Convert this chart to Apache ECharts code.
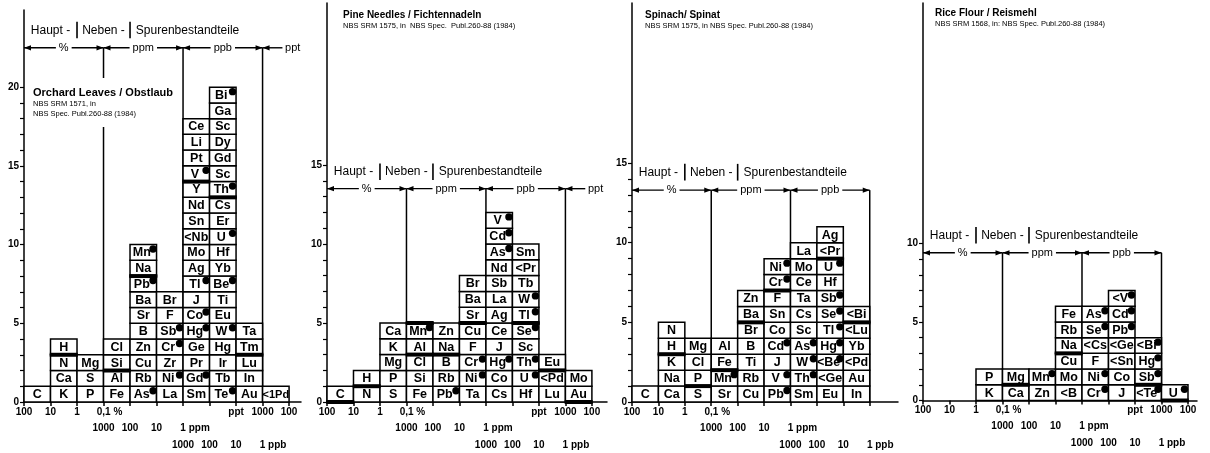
<!DOCTYPE html>
<html><head><meta charset="utf-8">
<script src="https://cdn.jsdelivr.net/npm/echarts@6/dist/echarts.min.js"></script>
<style>html,body{margin:0;padding:0;background:#fff}#c{width:1210px;height:453px}</style>
</head><body><div id="c"></div>
<script>
// ---------------- DATA ----------------
// Each column = one concentration decade (0: 100-10 %, 1: 10-1 %, ... ), elements stacked bottom -> top.
// '*' marks elements drawn with a black dot.
const orchardColumns = [
  ['C'],
  ['K','Ca','N','H'],
  ['P','S','Mg'],
  ['Fe','Al','Si','Cl'],
  ['As*','Rb','Cu','Zn','B','Sr','Ba','Pb*','Na','Mn*'],
  ['La','Ni*','Zr','Cr*','Sb*','F','Br'],
  ['Sm','Gd*','Pr','Ge','Hg*','Co*','J','Tl*','Ag','Mo','<Nb','Sn','Nd','Y','V*','Pt','Li','Ce'],
  ['Te*','Tb','Ir','Hg','W*','Eu','Ti','Be*','Yb','Hf','U*','Er','Cs','Th*','Sc','Gd','Dy','Sc','Ga','Bi*'],
  ['Au','In','Lu','Tm','Ta'],
  ['<1Pd']
];
const orchardBoundaries = [[1,3],[3,2],[4,8],[6,14],[7,13],[8,3]];

const pineColumns = [
  ['C'],
  ['N','H'],
  ['S','P','Mg','K','Ca'],
  ['Fe','Si','Cl','Al','Mn*'],
  ['Pb*','Rb','B','Na','Zn'],
  ['Ta','Ni*','Cr*','F','Cu','Sr','Ba','Br'],
  ['Cs','Co','Hg*','J','Ce','Ag','La','Sb','Nd','As*','Cd*','V*'],
  ['Hf','U*','Th*','Sc','Se*','Tl*','W*','Tb','<Pr','Sm'],
  ['Lu','<Pd','Eu'],
  ['Au','Mo']
];
const pineBoundaries = [[0,0],[1,1],[3,3],[3,5],[4,3],[5,5],[7,5],[8,2],[9,0]];

const spinachColumns = [
  ['C'],
  ['Ca','Na','K','H','N'],
  ['S','P','Cl','Mg'],
  ['Sr','Mn*','Fe','Al'],
  ['Cu','Rb','Ti','B','Br','Ba','Zn'],
  ['Pb*','V*','J','Cd*','Co','Sn','F','Cr*','Ni*'],
  ['Sm','Th*','W*','As*','Sc','Cs','Ta','Ce','Mo','La'],
  ['Eu','<Ge','<Be*','Hg*','Tl*','Se*','Sb*','Hf','U*','<Pr','Ag'],
  ['In','Au','<Pd','Yb','<Lu','<Bi']
];
const spinachBoundaries = [[1,3],[2,1],[3,2],[4,5],[5,7],[7,9],[8,5]];

const riceColumns = [
  [],
  [],
  ['K','P'],
  ['Ca','Mg'],
  ['Zn','Mn*'],
  ['<B','Mo','Cu','Na','Rb','Fe'],
  ['Cr*','Ni*','F','<Cs','Se*','As*'],
  ['J','Co','<Sn','<Ge','Pb*','Cd*','<V*'],
  ['<Te*','Sb*','Hg*','<Bi*'],
  ['U*']
];
const riceBoundaries = [[3,1],[5,3],[8,1],[9,0]];

const panelTitles = ['Orchard Leaves / Obstlaub','Pine Needles / Fichtennadeln','Spinach/ Spinat','Rice Flour / Reismehl'];
const panelSources = ['NBS SRM 1571, in\nNBS Spec. Publ.260-88 (1984)','NBS SRM 1575, in  NBS Spec.  Publ.260-88 (1984)','NBS SRM 1575, in NBS Spec. Publ.260-88 (1984)','NBS SRM 1568, in: NBS Spec. Publ.260-88 (1984)'];

const yLabelValues = [[0,5,10,15,20],[0,5,10,15],[0,5,10,15],[0,5,10]];
const yTickTop = [20,15,15,10];

const xRow1FullValues = [0,1,2,3,8,9,10];
const xRow1FullLabels = ['100','10','1','0,1 %','ppt','1000','100'];
const xRow1ShortValues = [0,1,2,3];
const xRow1ShortLabels = ['100','10','1','0,1 %'];
const xRow2Values = [3,4,5,6];
const xRow2Labels = ['1000','100','10','1 ppm'];
const xRow3Values = [6,7,8,9];
const xRow3Labels = ['1000','100','10','1 ppb'];

const unitSegments = [[0,3,'%'],[3,6,'ppm'],[6,9,'ppb']];
const unitBoundaries = [3,6,9];
const headerWords = ['Haupt -','Neben -','Spurenbestandteile'];

// ---------------- LAYOUT ----------------
const FONT = "'Liberation Sans', 'DejaVu Sans', sans-serif";
const BOXFONT = "'Liberation Sans Narrow', 'Liberation Sans', sans-serif";
const GRIDS = [
  {left:24,  top:10, width:277, height:392,   xMax:10.45, yMax:24.9,  headY:23.6, arrowY:22.5, tail:true,  xTickMax:10, row1:'full'},
  {left:327, top:3,  width:280, height:399,   xMax:10.57, yMax:25.25, headY:14.55,arrowY:13.5, tail:true,  xTickMax:10, row1:'full'},
  {left:632, top:3,  width:266, height:399,   xMax:10.07, yMax:25.05, headY:14.4, arrowY:13.3, tail:false, xTickMax:9,  row1:'short'},
  {left:923, top:3,  width:274, height:397.5, xMax:10.34, yMax:25.3,  headY:10.5, arrowY:9.4,  tail:false, xTickMax:10, row1:'full'}
];
const TITLE_POS = [
  {left:29, top:78, padding:[9,4,8,4], bg:'#fff', size:11},
  {left:343, top:9, padding:0, bg:'transparent', size:10},
  {left:645, top:9, padding:0, bg:'transparent', size:10},
  {left:935, top:7, padding:0, bg:'transparent', size:10}
];

const panels = [
  {columns: orchardColumns, bounds: orchardBoundaries},
  {columns: pineColumns, bounds: pineBoundaries},
  {columns: spinachColumns, bounds: spinachBoundaries},
  {columns: riceColumns, bounds: riceBoundaries}
];

function buildCells(columns) {
  const cells = [];
  columns.forEach((col, c) => col.forEach((entry, r) => {
    const dot = entry.endsWith('*');
    cells.push({value: [c, r], name: dot ? entry.slice(0, -1) : entry, dot: dot});
  }));
  return cells;
}

const RICH_PAD = {'0,1 %': 12, '1 ppm': 24, '1 ppb': 21};
function labelFormatter(values, labels) {
  return function (v) {
    const i = values.indexOf(Math.round(v));
    if (i < 0) return '';
    const t = labels[i];
    if (RICH_PAD[t] !== undefined) return '{k' + RICH_PAD[t] + '|' + t + '}';
    return t;
  };
}
const labelRich = {};
Object.keys(RICH_PAD).forEach(k => {
  labelRich['k' + RICH_PAD[k]] = {padding: [0, 0, 0, RICH_PAD[k]], fontSize: 10, fontWeight: 'bold', fontFamily: FONT, color: '#000'};
});

const range = n => Array.from({length: n + 1}, (_, i) => i);

const grid = [], xAxis = [], yAxis = [], series = [], title = [];
GRIDS.forEach((g, gi) => {
  grid.push({left: g.left, top: g.top, width: g.width, height: g.height, containLabel: false});
  const r1v = g.row1 === 'full' ? xRow1FullValues : xRow1ShortValues;
  const r1l = g.row1 === 'full' ? xRow1FullLabels : xRow1ShortLabels;
  const rows = [[r1v, r1l, 0], [xRow2Values, xRow2Labels, 16], [xRow3Values, xRow3Labels, 33]];
  rows.forEach((row, ri) => {
    xAxis.push({
      type: 'value', gridIndex: gi, min: 0, max: g.xMax, position: 'bottom', offset: row[2],
      axisLine: {show: ri === 0, onZero: false, lineStyle: {color: '#000', width: 1.5}},
      axisTick: {show: ri === 0, customValues: range(g.xTickMax), length: 4, lineStyle: {color: '#000', width: 1.5}},
      axisLabel: {customValues: row[0], formatter: labelFormatter(row[0], row[1]), rich: labelRich,
        fontSize: 10, fontWeight: 'bold', fontFamily: FONT, color: '#000', margin: 5, showMinLabel: true, showMaxLabel: true},
      splitLine: {show: false}
    });
  });
  yAxis.push({
    type: 'value', gridIndex: gi, min: 0, max: g.yMax,
    axisLine: {show: true, onZero: false, lineStyle: {color: '#000', width: 1.5}},
    axisTick: {show: true, customValues: range(yTickTop[gi]), length: 4, lineStyle: {color: '#000', width: 1.2}},
    axisLabel: {customValues: yLabelValues[gi], fontSize: 10, fontWeight: 'bold', fontFamily: FONT, color: '#000', margin: 5},
    splitLine: {show: false}
  });

  const cells = buildCells(panels[gi].columns);
  const xi = gi * 3;

  // header: unit arrows, decade boundary lines, "Haupt- | Neben- | Spurenbestandteile"
  series.push({
    type: 'custom', xAxisIndex: xi, yAxisIndex: gi, z: 1, silent: true, clip: false,
    data: [[0, 0]],
    renderItem: function (params, api) {
      const P = (x, y) => api.coord([x, y]);
      const ch = [];
      const L = (a, b, w) => ch.push({type: 'line', shape: {x1: a[0], y1: a[1], x2: b[0], y2: b[1]}, style: {stroke: '#000', lineWidth: w || 1.4}});
      const head = (tip, dir) => ch.push({type: 'polygon', shape: {points: [[tip[0], tip[1]], [tip[0] - dir * 7, tip[1] - 2.6], [tip[0] - dir * 7, tip[1] + 2.6]]}, style: {fill: '#000'}});
      const T = (txt, p, align, size, bg) => ch.push({type: 'text', z2: 10, style: {text: txt, x: p[0], y: p[1], align: align, verticalAlign: 'middle', fontSize: size, fontFamily: FONT, fill: '#000', backgroundColor: bg ? '#fff' : null, padding: bg ? [0, 3] : 0}});
      const ay = g.arrowY, hy = g.headY;
      unitBoundaries.forEach(x => L(P(x, ay), P(x, 0), 1.5));
      unitSegments.forEach(s => {
        const a = P(s[0], ay), b = P(s[1], ay);
        L(a, b); head(a, -1); head(b, 1);
        T(s[2], P((s[0] + s[1]) / 2, ay), 'center', 11, true);
      });
      if (g.tail) {
        const a = P(9, ay), b = P(9.75, ay);
        L(a, b); head(a, -1);
        T('ppt', P(9.85, ay), 'left', 11, false);
      }
      T(headerWords[0], P(1, hy), 'center', 12, false);
      T(headerWords[1], P(3, hy), 'center', 12, false);
      T(headerWords[2], P(4.22, hy), 'left', 12, false);
      L(P(2, hy - 0.5), P(2, hy + 0.55), 1.6);
      L(P(4, hy - 0.5), P(4, hy + 0.55), 1.6);
      return {type: 'group', children: ch};
    }
  });

  // element boxes
  series.push({
    type: 'custom', xAxisIndex: xi, yAxisIndex: gi, z: 3, silent: true, clip: false,
    data: cells.map(c => c.value),
    renderItem: function (params, api) {
      const cell = cells[params.dataIndex];
      const c = api.value(0), r = api.value(1);
      const a = api.coord([c, r]), b = api.coord([c + 1, r + 1]);
      const x = a[0], y = b[1], w = b[0] - a[0], h = a[1] - b[1];
      const ch = [
        {type: 'rect', shape: {x: x, y: y, width: w, height: h}, style: {fill: '#fff', stroke: '#000', lineWidth: 1.5}},
        {type: 'text', style: {text: cell.name, x: x + w / 2 - (cell.dot ? 1.5 : 0), y: y + h / 2 + 0.5, align: 'center', verticalAlign: 'middle',
          fontSize: cell.name.length > 3 ? 11 : 12.5, fontWeight: 'bold', fontFamily: BOXFONT, fill: '#000'}}
      ];
      if (cell.dot) ch.push({type: 'circle', shape: {cx: x + w - 3.5, cy: y + 4.5, r: 3.7}, style: {fill: '#000'}});
      return {type: 'group', children: ch};
    }
  });

  // thick boundary bars
  series.push({
    type: 'custom', xAxisIndex: xi, yAxisIndex: gi, z: 4, silent: true, clip: false,
    data: panels[gi].bounds,
    renderItem: function (params, api) {
      const a = api.coord([api.value(0), api.value(1)]), b = api.coord([api.value(0) + 1, api.value(1)]);
      return {type: 'rect', shape: {x: a[0] - 0.75, y: a[1] - 2, width: b[0] - a[0] + 1.5, height: 4}, style: {fill: '#000'}};
    }
  });

  const tp = TITLE_POS[gi];
  title.push({
    text: panelTitles[gi], subtext: panelSources[gi], left: tp.left, top: tp.top, padding: tp.padding,
    backgroundColor: tp.bg, itemGap: 0, z: 6,
    textStyle: {fontSize: tp.size, fontWeight: 'bold', fontFamily: FONT, color: '#000', lineHeight: 12},
    subtextStyle: {fontSize: 7.5, fontFamily: FONT, color: '#000', lineHeight: 10}
  });
});

const chart = echarts.init(document.getElementById('c'), null, {renderer: 'canvas'});
chart.setOption({animation: false, backgroundColor: '#fff', title, grid, xAxis, yAxis, series});
</script>
</body></html>
